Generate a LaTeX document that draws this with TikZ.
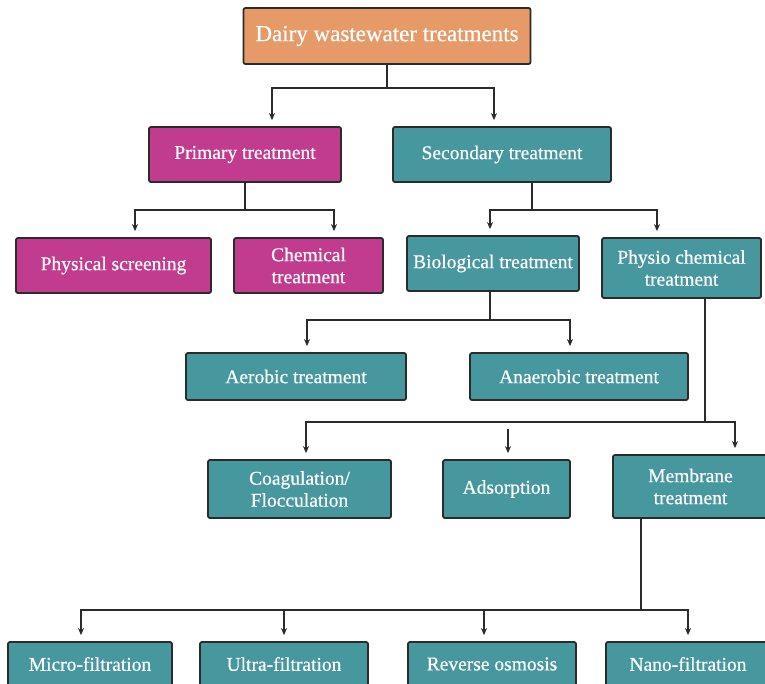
\documentclass[tikz,border=0pt]{standalone}
\usepackage{fontspec}
\setmainfont{Liberation Serif}
\newfontfamily\labelfont{Liberation Serif}[FakeBold=0.5]
\usetikzlibrary{arrows.meta}
\definecolor{rootfill}{HTML}{E69A68}
\definecolor{primfill}{HTML}{C13C8F}
\definecolor{secfill}{HTML}{47979F}
\definecolor{edgecol}{HTML}{2B2B2B}
\begin{document}
\begin{tikzpicture}[x=1pt,y=-1pt,
  box/.style={draw=edgecol, line width=1.8pt, rounded corners=2pt, text=white,
    align=center, inner sep=0pt, font=\labelfont\fontsize{19.5}{22}\selectfont},
  rootbox/.style={box, fill=rootfill, font=\labelfont\fontsize{23}{26}\selectfont},
  pbox/.style={box, fill=primfill},
  sbox/.style={box, fill=secfill},
  link/.style={draw=edgecol, line width=1.2pt},
  arr/.style={link, -{Stealth[length=7pt,width=6pt]}, shorten >=6pt},
]
\clip (0,0) rectangle (765,683);
\fill[white] (0,0) rectangle (765,683);

% ---- boxes ----
\node[rootbox, minimum width=287pt, minimum height=56pt] (root) at (387,36) {Dairy wastewater treatments};

\node[pbox, minimum width=192pt, minimum height=55pt] (prim) at (245,154.5) {Primary treatment};
\node[sbox, minimum width=218pt, minimum height=55pt] (sec) at (502,154.5) {Secondary treatment};

\node[pbox, minimum width=195pt, minimum height=55pt] (phys) at (113.5,265.5) {Physical screening};
\node[pbox, minimum width=149pt, minimum height=55pt] (chem) at (308.5,265.5) {Chemical\\treatment};
\node[sbox, minimum width=172pt, minimum height=55pt] (bio) at (493,263.5) {Biological treatment};
\node[sbox, minimum width=159pt, minimum height=60pt] (physio) at (681.5,268) {Physio chemical\\treatment};

\node[sbox, minimum width=220pt, minimum height=47pt] (aero) at (296,376.5) {Aerobic treatment};
\node[sbox, minimum width=218pt, minimum height=47pt] (anaero) at (579,376.5) {Anaerobic treatment};

\node[sbox, minimum width=183pt, minimum height=58pt] (coag) at (299.5,489) {Coagulation/\\Flocculation};
\node[sbox, minimum width=127pt, minimum height=58pt] (ads) at (506.5,489) {Adsorption};
\node[sbox, minimum width=155pt, minimum height=63pt] (memb) at (690.5,486.5) {Membrane\\treatment};

\node[sbox, minimum width=164pt, minimum height=44pt] (micro) at (90,664) {Micro-filtration};
\node[sbox, minimum width=168pt, minimum height=44pt] (ultra) at (284,664) {Ultra-filtration};
\node[sbox, minimum width=168pt, minimum height=44pt] (rev) at (492,664) {Reverse osmosis};
\node[sbox, minimum width=164pt, minimum height=44pt] (nano) at (688,664) {Nano-filtration};

% ---- connectors ----
% root -> primary / secondary
\draw[link] (root.south) -- (root.south |- 0,88);
\draw[arr] (root.south |- 0,88) -| ([xshift=27pt]prim.north);
\draw[arr] (root.south |- 0,88) -| ([xshift=-8pt]sec.north);

% primary -> physical / chemical
\draw[link] (prim.south) -- (prim.south |- 0,210);
\draw[arr] (prim.south |- 0,210) -| ([xshift=21.5pt]phys.north);
\draw[arr] (prim.south |- 0,210) -| ([xshift=25.5pt]chem.north);

% secondary -> biological / physio chemical
\draw[link] ([xshift=30pt]sec.south) -- ([xshift=30pt]sec.south |- 0,210);
\draw[arr] ([xshift=30pt]sec.south |- 0,210) -| ([xshift=-3pt]bio.north);
\draw[arr] ([xshift=30pt]sec.south |- 0,210) -| ([xshift=-24.5pt]physio.north);

% biological -> aerobic / anaerobic
\draw[link] ([xshift=-3pt]bio.south) -- ([xshift=-3pt]bio.south |- 0,320);
\draw[arr] ([xshift=-3pt]bio.south |- 0,320) -| ([xshift=11pt]aero.north);
\draw[arr] ([xshift=-3pt]bio.south |- 0,320) -| ([xshift=-9pt]anaero.north);

% physio chemical -> coagulation / adsorption / membrane
\draw[link] ([xshift=23.5pt]physio.south) -- ([xshift=23.5pt]physio.south |- 0,422);
\draw[arr] ([xshift=23.5pt]physio.south |- 0,422) -| ([xshift=6.5pt]coag.north);
\draw[arr] ([xshift=23.5pt]physio.south |- 0,422) -| ([xshift=44.5pt]memb.north);
\coordinate (adstop) at (508,429);
\draw[arr] (adstop) -- (adstop |- ads.north);

% membrane -> filtration processes
\draw[link] ([xshift=-49.5pt]memb.south) -- ([xshift=-49.5pt]memb.south |- 0,610);
\draw[arr] ([xshift=-49.5pt]memb.south |- 0,610) -| ([xshift=-9pt]micro.north);
\draw[arr] ([xshift=-49.5pt]memb.south |- 0,610) -| (ultra.north);
\draw[arr] ([xshift=-49.5pt]memb.south |- 0,610) -| ([xshift=-8pt]rev.north);
\draw[arr] ([xshift=-49.5pt]memb.south |- 0,610) -| (nano.north);
\end{tikzpicture}
\end{document}
